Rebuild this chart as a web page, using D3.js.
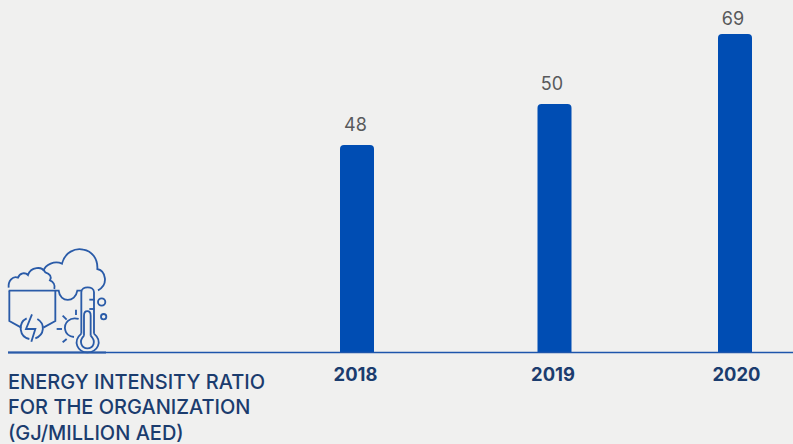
<!DOCTYPE html>
<html>
<head>
<meta charset="utf-8">
<script src="https://cdn.jsdelivr.net/npm/d3@7"></script>
<style>
html, body { margin: 0; padding: 0; background: #f0f0ef; }
svg { display: block; }
text { font-family: Inter, "Liberation Sans", sans-serif; }
</style>
</head>
<body>
<div id="chart"></div>
<script>
const years = ["2018", "2019", "2020"];
const ratio = [48, 50, 69];
const titleLines = ["ENERGY INTENSITY RATIO", "FOR THE ORGANIZATION", "(GJ/MILLION AED)"];

const width = 793, height = 444;
const baseline = 352;
const barWidth = 34;

const svg = d3.select("#chart").append("svg")
    .attr("width", width)
    .attr("height", height);

// years are not evenly spaced in the original
const x = d3.scaleOrdinal().domain(years).range([357, 554.5, 735]);
// labels sit a little off the bar centres
const xLabel = d3.scaleOrdinal().domain(years).range([355, 552.5, 736]);
const xValue = d3.scaleOrdinal().domain(years).range([355.5, 552, 733]);
// bars in the original are not proportional to their labels, so piecewise
const y = d3.scaleLinear().domain([0, 48, 50, 69]).range([baseline, 145, 104, 34]);

function barPath(d, i) {
    const x0 = x(years[i]) - barWidth / 2, x1 = x0 + barWidth, top = y(d), r = 4;
    const p = d3.path();
    p.moveTo(x0, baseline);
    p.lineTo(x0, top + r);
    p.quadraticCurveTo(x0, top, x0 + r, top);
    p.lineTo(x1 - r, top);
    p.quadraticCurveTo(x1, top, x1, top + r);
    p.lineTo(x1, baseline);
    p.closePath();
    return p.toString();
}

svg.selectAll("path.bar")
    .data(ratio)
    .enter()
    .append("path")
    .attr("class", "bar")
    .attr("d", barPath)
    .attr("fill", "#004db3");

svg.selectAll("text.value")
    .data(ratio)
    .enter()
    .append("text")
    .attr("class", "value")
    .attr("x", (d, i) => xValue(years[i]))
    .attr("y", d => Math.max(y(d) - 14, 25)) // tallest label is squeezed under the top edge
    .attr("text-anchor", "middle")
    .attr("font-size", 18)
    .attr("fill", "#58595b")
    .text(d => d);

// baseline and year labels
const axis = svg.append("g")
    .attr("transform", "translate(0," + baseline + ")")
    .call(d3.axisBottom(xLabel).tickSize(0).tickPadding(16));
axis.select(".domain").remove();
axis.selectAll("text")
    .attr("font-family", "Inter, sans-serif")
    .attr("font-size", 18.4)
    .attr("font-weight", 700)
    .attr("fill", "#1b3c6e");

svg.append("line")
    .attr("x1", 8).attr("x2", width)
    .attr("y1", baseline + 0.5).attr("y2", baseline + 0.5)
    .attr("stroke", "#1d55ab")
    .attr("stroke-width", 1.3);

// line is heavier under the icon
svg.append("line")
    .attr("x1", 8).attr("x2", 106)
    .attr("y1", baseline + 0.5).attr("y2", baseline + 0.5)
    .attr("stroke", "#2a5ba8")
    .attr("stroke-width", 2);

svg.append("text")
    .selectAll("tspan")
    .data(titleLines)
    .enter()
    .append("tspan")
    .attr("x", 8)
    .attr("y", (d, i) => 388.5 + i * 25.5)
    .attr("font-size", 20)
    .attr("font-weight", 500)
    .attr("fill", "#1b3c6e")
    .text(d => d);

/* icon, traced in zoom-crop units (3x) */
const icon = svg.append("g")
    .attr("transform", "translate(0,235) scale(0.3333)")
    .attr("fill", "none")
    .attr("stroke", "#2a5ba8")
    .attr("stroke-width", 5.5);

const iconPaths = [
    // left cloud
    "M26 158 C24 138 38 122 54 128 C60 112 76 112 84 120 C92 96 126 92 136 112 C150 116 156 126 150 136 C160 140 166 150 163 162",
    // big cloud
    "M130 108 C136 88 164 76 186 86 C194 52 226 38 250 44 C276 48 294 72 292 102 C318 108 326 150 294 166",
    // box
    "M26 167 H176 C180 204 226 204 232 167 H244",
    "M28 167 V258 L64 278",
    "M166 167 V258 L130 278",
    // bolt in circle
    "M96 238 L78 282 H106 L94 320",
    "M80 250 C52 264 58 306 88 312",
    "M112 252 C136 266 134 300 106 310",
    // thermometer
    "M244 296 V172 C244 152 282 152 282 172 V296",
    "M252 302 V242 C252 224 272 224 272 242 V302",
    "M268 194 H284", "M268 222 H284",
    "M244 296 C216 320 234 352 262 352 C292 352 310 320 282 296",
    "M252 302 C234 320 246 340 262 340 C280 340 290 320 272 302",
    // sun
    "M236 252 C210 244 190 264 196 286 C198 296 208 304 222 306",
    "M228 224 V240", "M188 242 L200 254", "M170 282 H186", "M188 322 L200 312"
];

icon.selectAll("path")
    .data(iconPaths)
    .enter()
    .append("path")
    .attr("d", d => d);

icon.append("circle").attr("cx", 305).attr("cy", 201).attr("r", 11);
icon.append("circle").attr("cx", 311).attr("cy", 245).attr("r", 8);
</script>
</body>
</html>
